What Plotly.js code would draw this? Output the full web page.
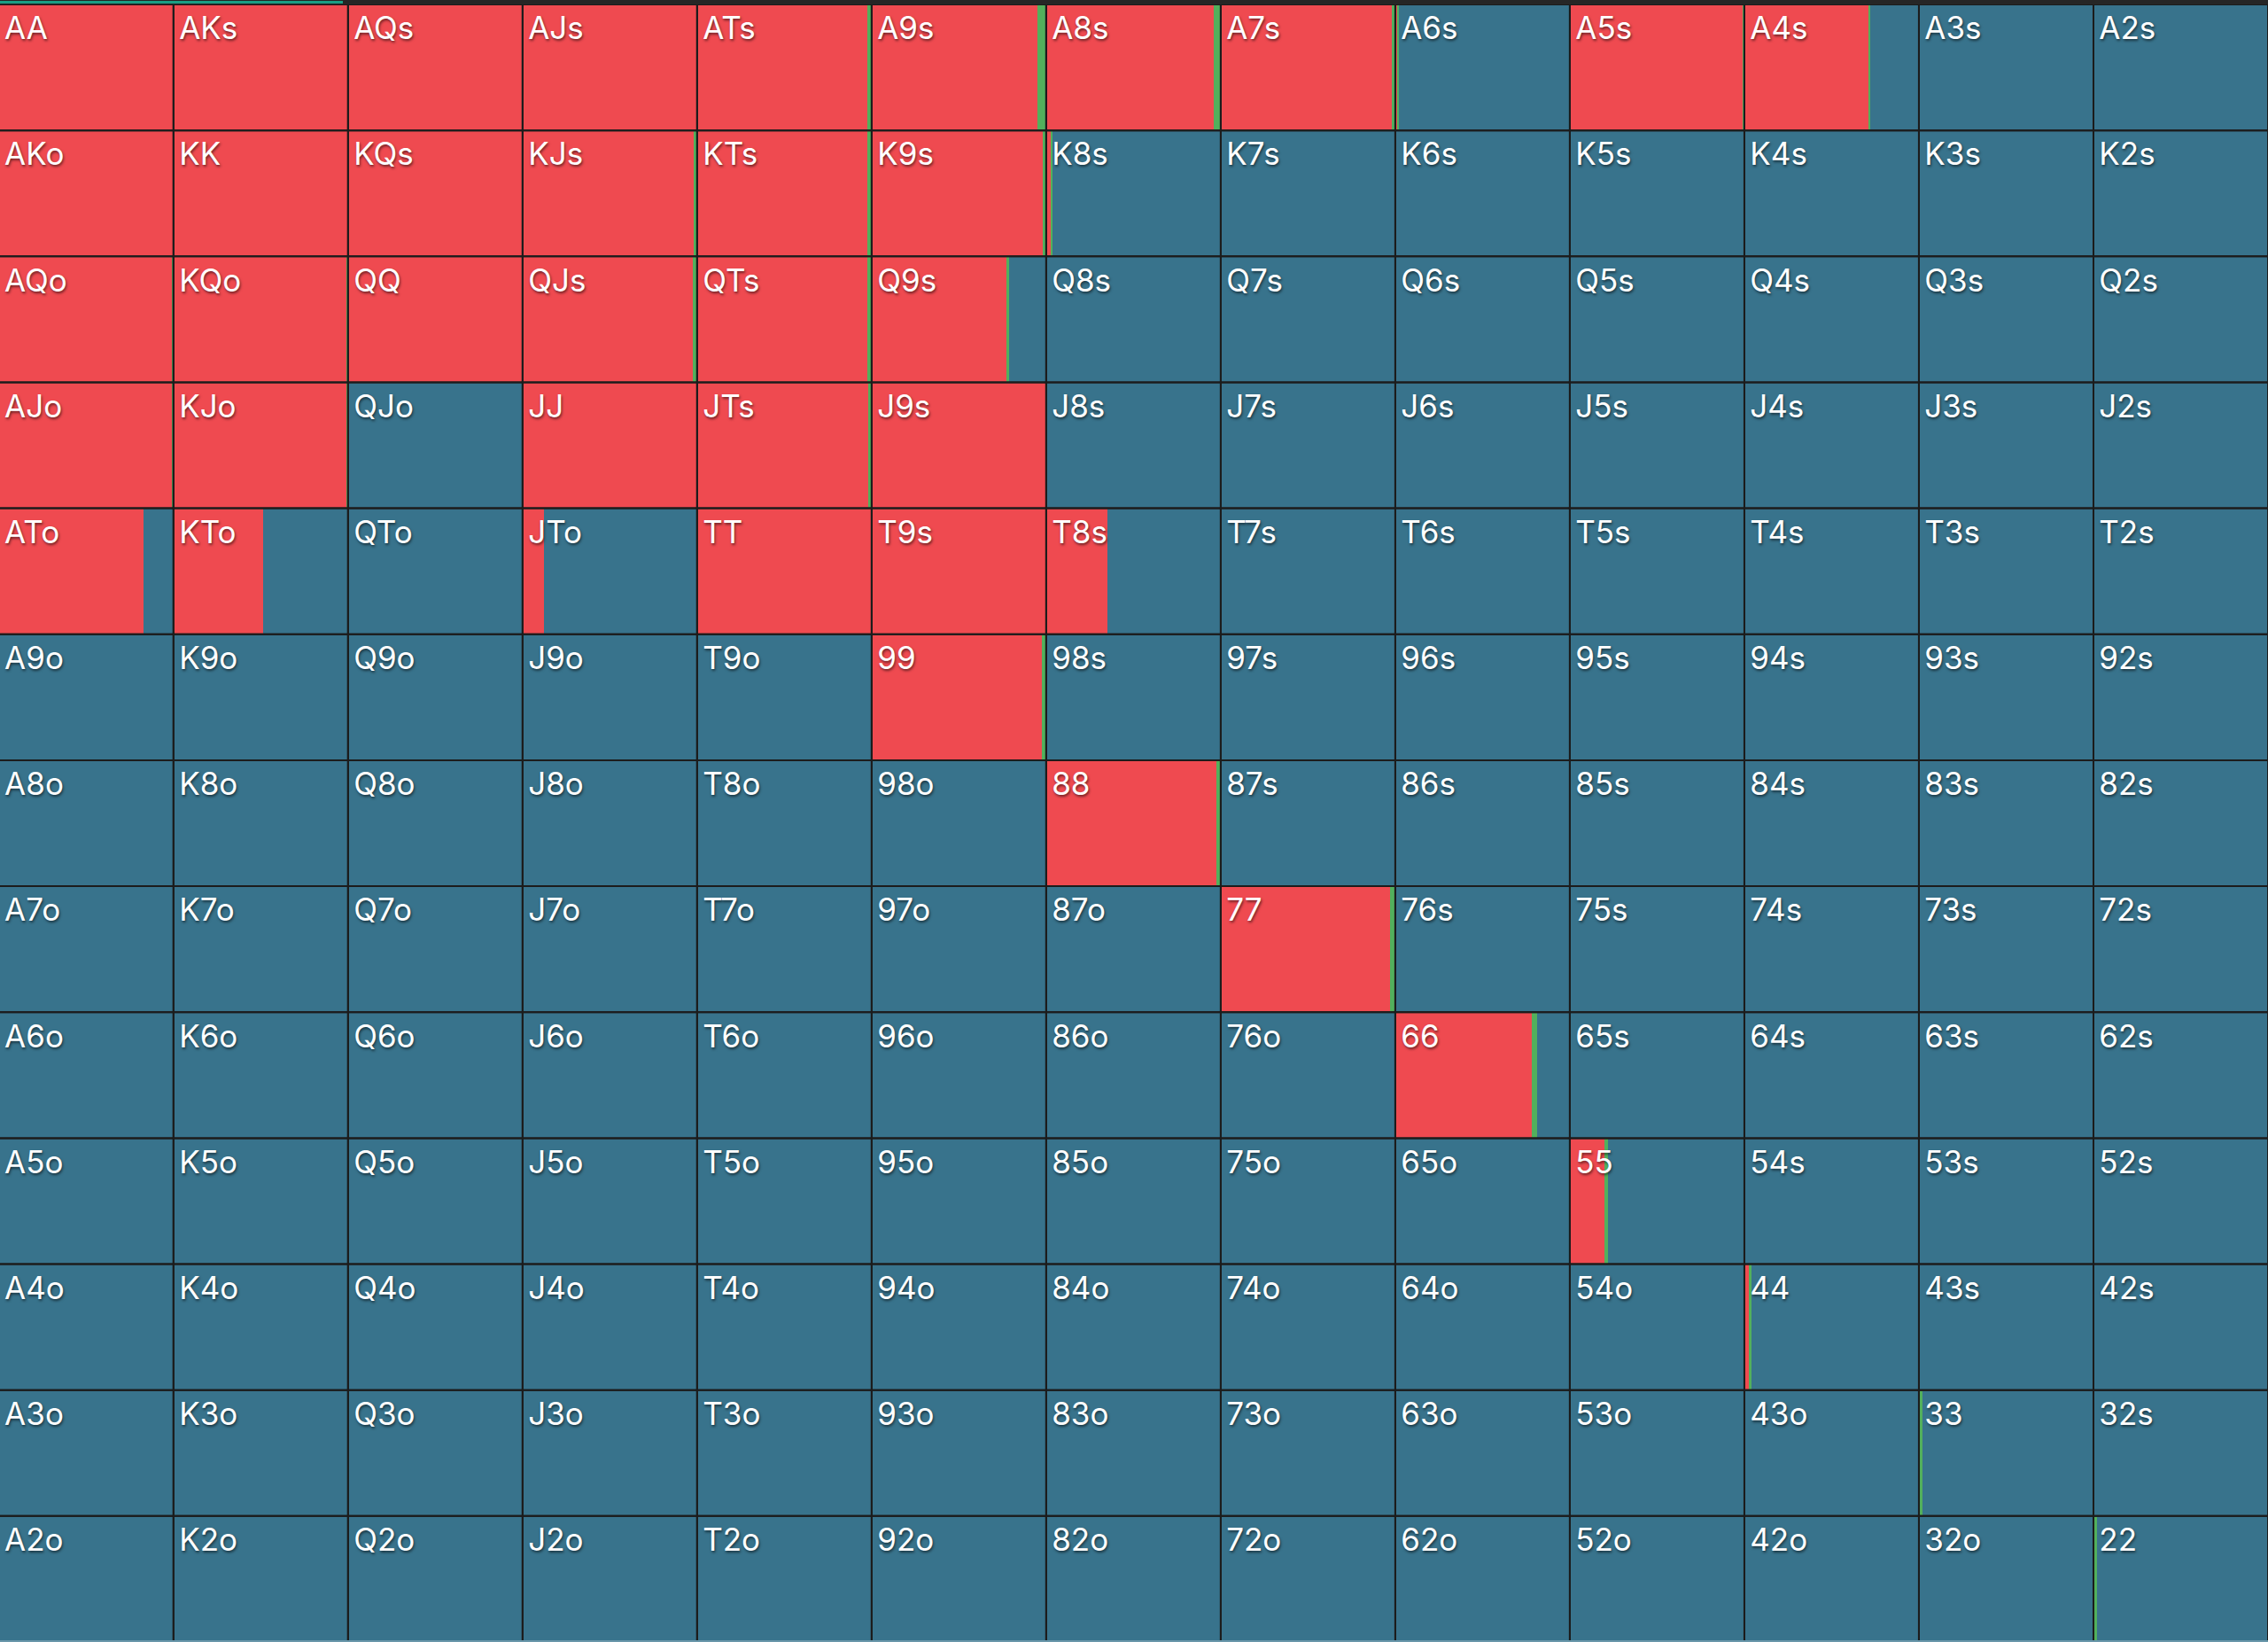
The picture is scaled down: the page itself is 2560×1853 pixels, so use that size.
<!DOCTYPE html>
<html>
<head>
<meta charset="utf-8">
<script src="https://cdn.plot.ly/plotly-3.0.1.min.js"></script>
<style>
html,body{margin:0;padding:0;background:#262626;overflow:hidden;}
#chart{width:2560px;height:1853px;}
</style>
</head>
<body>
<div id="chart"></div>
<script>
// Card ranks (row / column order)
const ranks = ["A","K","Q","J","T","9","8","7","6","5","4","3","2"];

// Raise frequency (%) per cell, row = first rank, col = second rank
const raisePct = [
  [100,100,100,100, 97.5, 95, 96, 97.8, 1, 98.8, 71,  0,  0],
  [100,100,100, 97.8, 97.5, 98.2, 2.5, 0,  0,  0,  0,  0,  0],
  [99.3,99.3,100, 97.3, 97.5, 77,  0,  0,  0,  0,  0,  0,  0],
  [99.3,99.3,  0,100, 98,100, 0,  0,  0,  0,  0,  0,  0],
  [82.8,51.5,  0, 12.5,100,100, 35,  0,  0,  0,  0,  0,  0],
  [  0,  0,  0,  0,  0, 97.5, 0,  0,  0,  0,  0,  0,  0],
  [  0,  0,  0,  0,  0,  0, 97.7, 0,  0,  0,  0,  0,  0],
  [  0,  0,  0,  0,  0,  0,  0, 97, 0,  0,  0,  0,  0],
  [  0,  0,  0,  0,  0,  0,  0,  0, 78,  0,  0,  0,  0],
  [  0,  0,  0,  0,  0,  0,  0,  0,  0, 19.6, 0,  0,  0],
  [  0,  0,  0,  0,  0,  0,  0,  0,  0,  0, 2.5,  0,  0],
  [  0,  0,  0,  0,  0,  0,  0,  0,  0,  0,  0,  0,  0],
  [  0,  0,  0,  0,  0,  0,  0,  0,  0,  0,  0,  0,  0]
];

// Call frequency (%) per cell
const callPct = [
  [  0,  0,  0,  0, 2.5,  5,  4, 2.2, 1.2, 1.2, 1,  0,  0],
  [  0,  0,  0, 2.2, 2.5, 1.8, 1.2, 0,  0,  0,  0,  0,  0],
  [0.7,0.7,  0, 2.7, 2.5, 1.8, 0,  0,  0,  0,  0,  0,  0],
  [0.7,0.7,  0,  0,  2,  0,  0,  0,  0,  0,  0,  0,  0],
  [  0,  0,  0,  0,  0,  0,  0,  0,  0,  0,  0,  0,  0],
  [  0,  0,  0,  0,  0, 2.5,  0,  0,  0,  0,  0,  0,  0],
  [  0,  0,  0,  0,  0,  0, 2.3, 0,  0,  0,  0,  0,  0],
  [  0,  0,  0,  0,  0,  0,  0,  3, 0,  0,  0,  0,  0],
  [  0,  0,  0,  0,  0,  0,  0,  0, 3.4, 0,  0,  0,  0],
  [  0,  0,  0,  0,  0,  0,  0,  0,  0, 2.5, 0,  0,  0],
  [  0,  0,  0,  0,  0,  0,  0,  0,  0,  0, 1.7, 0,  0],
  [  0,  0,  0,  0,  0,  0,  0,  0,  0,  0,  0,  2.2, 0],
  [  0,  0,  0,  0,  0,  0,  0,  0,  0,  0,  0,  0, 1.9]
];

const RED = "#ef4a50", GREEN = "#52b05c", BLUE = "#38738c", LINE = "#1c1c1c";

function handLabel(r, c) {
  if (r === c) return ranks[r] + ranks[c];
  if (r < c) return ranks[r] + ranks[c] + "s";
  return ranks[c] + ranks[r] + "o";
}

const ry = [], rx = [], rb = [];
const cx = [], cb = [];
const fx = [], fb = [];
const gx = [], gb = [];
const tx = [], ty = [], tt = [];
for (let r = 0; r < 13; r++) {
  for (let c = 0; c < 13; c++) {
    const rv = raisePct[r][c] / 100, cv = callPct[r][c] / 100;
    ry.push(r + 0.5);
    rx.push(rv); rb.push(c);
    cx.push(cv); cb.push(c + rv);
    fx.push(Math.max(0, 1 - rv - cv)); fb.push(c + rv + cv);
    gx.push(1); gb.push(c);
    tx.push(c + 0.032); ty.push(r + 0.092); tt.push(handLabel(r, c));
  }
}

const common = {type: "bar", orientation: "h", y: ry, width: 1, hoverinfo: "skip", showlegend: false};
const traces = [
  Object.assign({}, common, {name: "Fold", x: fx, base: fb, marker: {color: BLUE, line: {width: 0}}}),
  Object.assign({}, common, {name: "Raise", x: rx, base: rb, marker: {color: RED, line: {width: 0}}}),
  Object.assign({}, common, {name: "Call", x: cx, base: cb, marker: {color: GREEN, line: {width: 0}}}),
  Object.assign({}, common, {name: "Grid", x: gx, base: gb, marker: {color: "rgba(0,0,0,0)", line: {width: 2, color: LINE}}}),
  {
    type: "scatter", mode: "text", x: tx, y: ty, text: tt,
    textposition: "bottom right", hoverinfo: "skip", showlegend: false, cliponaxis: false,
    textfont: {family: "Inter, 'Noto Sans', sans-serif", size: 35, color: "#ffffff",
               shadow: "1px 2px 3px rgba(0,0,0,0.55)"}
  }
];

const layout = {
  width: 2560, height: 1853,
  margin: {l: 0, r: 0, t: 5, b: 0, pad: 0},
  paper_bgcolor: "#262626", plot_bgcolor: BLUE,
  barmode: "overlay", bargap: 0,
  xaxis: {range: [0.006, 13], visible: false, fixedrange: true},
  yaxis: {range: [13, 0], visible: false, fixedrange: true},
  shapes: [
    {type: "rect", xref: "paper", yref: "paper", x0: 0, x1: 387/2560,
     y0: 1 + 1/1848, y1: 1 + 4/1848, fillcolor: "#1a9e84", line: {width: 0}, layer: "above"},
    {type: "rect", xref: "paper", yref: "paper", x0: 0, x1: 1,
     y0: 0, y1: 2/1848, fillcolor: "#6a97aa", line: {width: 0}, layer: "above"}
  ]
};

Plotly.newPlot("chart", traces, layout, {displayModeBar: false, staticPlot: true});
</script>
</body>
</html>
